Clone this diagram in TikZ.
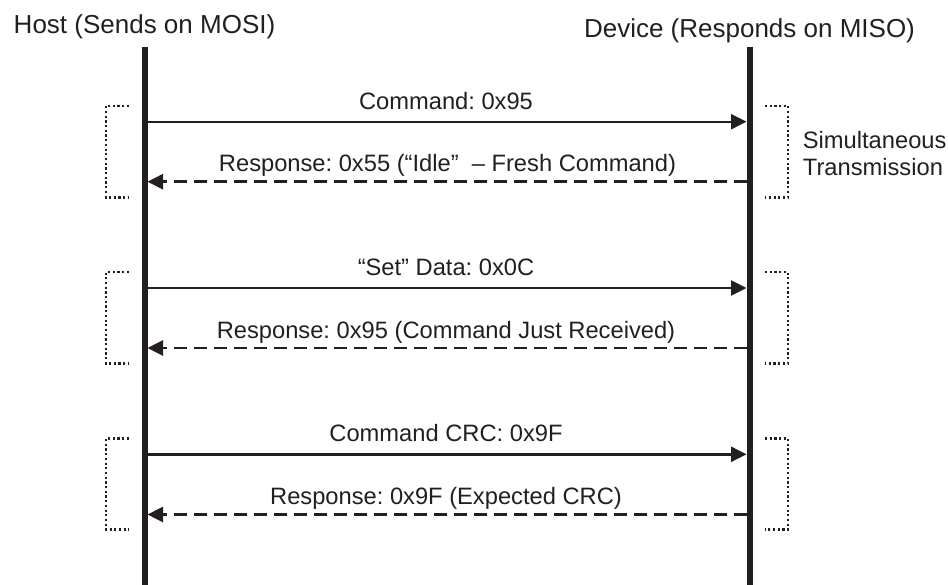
\documentclass[tikz,border=0pt]{standalone}
\usepackage{fontspec}
\setmainfont{Liberation Sans}
\usetikzlibrary{arrows.meta}
\definecolor{ink}{HTML}{231F20}
\frenchspacing
\begin{document}
\begin{tikzpicture}[x=1pt,y=-1pt,
  lifeline/.style={draw=ink,line width=6pt},
  msg/.style={draw=ink,line width=2.4pt,-{Triangle[length=15.5pt,width=15pt]}},
  reply/.style={draw=ink,line width=2.7pt,dash pattern=on 13pt off 7pt,-{Triangle[length=15.5pt,width=15pt]}},
  bracket/.style={draw=ink,line width=2.4pt,dash pattern=on 2.2pt off 2.5pt},
  title/.style={font=\fontsize{26}{31}\selectfont,text=ink,inner sep=0pt,anchor=base},
  lbl/.style={font=\fontsize{23.7}{28}\selectfont,text=ink,inner sep=0pt,anchor=base}]
\useasboundingbox (0,0) rectangle (948,584);
% lifelines
\coordinate (htop) at (144.5,47);
\coordinate (hbot) at (144.5,590);
\coordinate (dtop) at (749.5,47);
\coordinate (dbot) at (749.5,590);
\draw[lifeline] (htop) -- (hbot);
\draw[lifeline] (dtop) -- (dbot);
\node[title] (host) at (144.5,33) {Host (Sends on MOSI)};
\node[title] (dev) at (749.5,37) {Device (Responds on MISO)};
% group 1
\coordinate (h1) at (147.5,121.7); \coordinate (d1) at (746.5,121.7);
\coordinate (h1r) at (147.5,181.7); \coordinate (d1r) at (746.5,181.7);
\draw[msg] (h1) -- (d1);
\draw[reply] (d1r) -- (h1r);
\node[lbl] (m1) at (446,109) {Command: 0x95};
\node[lbl] (r1) at (447.5,171.7) {Response: 0x55 (“Idle”\ \ – Fresh Command)};
% group 2
\coordinate (h2) at (147.5,288); \coordinate (d2) at (746.5,288);
\coordinate (h2r) at (147.5,348); \coordinate (d2r) at (746.5,348);
\draw[msg] (h2) -- (d2);
\draw[reply] (d2r) -- (h2r);
\node[lbl] (m2) at (446,275.5) {“Set” Data: 0x0C};
\node[lbl] (r2) at (446,338) {Response: 0x95 (Command Just Received)};
% group 3
\coordinate (h3) at (147.5,454.3); \coordinate (d3) at (746.5,454.3);
\coordinate (h3r) at (147.5,514.5); \coordinate (d3r) at (746.5,514.5);
\draw[msg] (h3) -- (d3);
\draw[reply] (d3r) -- (h3r);
\node[lbl] (m3) at (446,441.5) {Command CRC: 0x9F};
\node[lbl] (r3) at (446,504.5) {Response: 0x9F (Expected CRC)};
% brackets
\foreach \t/\b in {105.7/197.3, 272/363.5, 438.5/529.5}{
  \draw[bracket] (129,\t) -- (106,\t) -- (106,\b) -- (129,\b);
  \draw[bracket] (765,\t) -- (788,\t) -- (788,\b) -- (765,\b);
}
\node[lbl,anchor=base west] (sim) at (802.7,148) {Simultaneous};
\node[lbl,anchor=base west] (trans) at (802.7,175) {Transmission};
\end{tikzpicture}
\end{document}
